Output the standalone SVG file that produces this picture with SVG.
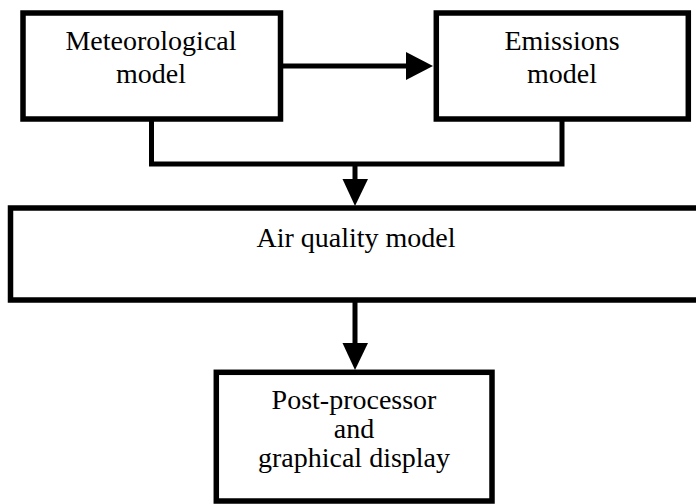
<svg xmlns="http://www.w3.org/2000/svg" width="696" height="504" viewBox="0 0 696 504">
  <style>
    .box { fill: #fff; stroke: #000; stroke-width: 5.5; }
    .wire { fill: none; stroke: #000; stroke-width: 5; }
    .head { fill: #000; }
    text { font-family: "Liberation Serif", "Times New Roman", serif; font-size: 28px; fill: #000; text-anchor: middle; }
  </style>
  <rect width="696" height="504" fill="#fff"/>

  <g id="connectors">
    <!-- meteorological -> emissions -->
    <line class="wire" x1="283" y1="66" x2="408" y2="66"/>
    <polygon class="head" points="406,52 433,66 406,80"/>
    <!-- both upper models merge into the air quality model -->
    <polyline class="wire" points="151.5,119 151.5,164 562,164 562,119"/>
    <line class="wire" x1="355" y1="164" x2="355" y2="181"/>
    <polygon class="head" points="342.5,179 368,179 355,206"/>
    <!-- air quality model -> post-processor -->
    <line class="wire" x1="355" y1="302" x2="355" y2="345"/>
    <polygon class="head" points="342.5,343 368,343 355,370"/>
  </g>

  <g id="meteorological">
    <rect class="box" x="23" y="13" width="257.5" height="106"/>
    <text x="151" y="50">Meteorological</text>
    <text x="151" y="83">model</text>
  </g>

  <g id="emissions">
    <rect class="box" x="436.3" y="13" width="252" height="106"/>
    <text x="562" y="50">Emissions</text>
    <text x="562" y="83">model</text>
  </g>

  <g id="air-quality">
    <rect class="box" x="10.5" y="208" width="700" height="92"/>
    <text x="356" y="247">Air quality model</text>
  </g>

  <g id="post-processor">
    <rect class="box" x="216.3" y="372.3" width="275.7" height="128.7"/>
    <text x="354" y="409">Post-processor</text>
    <text x="354" y="438">and</text>
    <text x="354" y="467">graphical display</text>
  </g>
</svg>
